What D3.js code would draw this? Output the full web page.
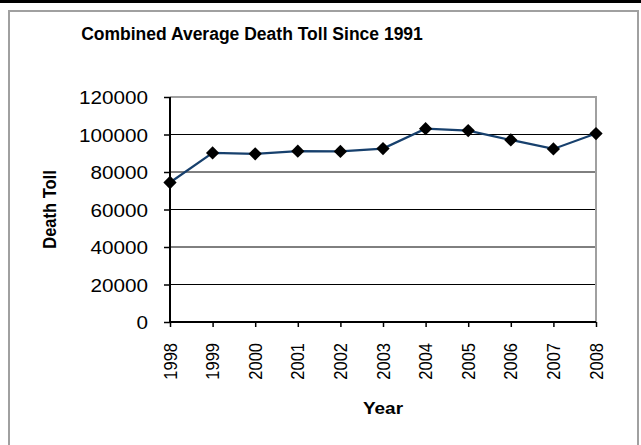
<!DOCTYPE html>
<html>
<head>
<meta charset="utf-8">
<script src="https://cdn.jsdelivr.net/npm/d3@7"></script>
<style>
  html, body { margin: 0; padding: 0; background: #fff; }
  svg { display: block; }
  text { font-family: "Liberation Sans", Arial, Helvetica, sans-serif; fill: #000; }
</style>
</head>
<body>
<svg id="chart" width="641" height="445"></svg>
<script>
// Combined average death toll per year
const years = ["1998","1999","2000","2001","2002","2003","2004","2005","2006","2007","2008"];
const deathToll = [74400, 90200, 89700, 91100, 91000, 92500, 103100, 102100, 97100, 92300, 100500];
const yTicks = [0, 20000, 40000, 60000, 80000, 100000, 120000];

const chartTitle = "Combined Average Death Toll Since 1991";
const xTitle = "Year";
const yTitle = "Death Toll";

const W = 641, H = 445;
const plot = { left: 170, right: 596, top: 97, bottom: 322 };
const stretch = 1.15; // horizontal glyph stretch for axis text

const svg = d3.select("#chart");

// page background & frame
svg.append("rect").attr("x", 0).attr("y", 0).attr("width", W).attr("height", H).attr("fill", "#fff");
svg.append("rect").attr("x", 0).attr("y", 0).attr("width", W).attr("height", 3).attr("fill", "#000");
svg.append("rect").attr("x", 9).attr("y", 11).attr("width", 629).attr("height", 460)
  .attr("fill", "#fff").attr("stroke", "#a0a0a0").attr("stroke-width", 2);

const x = d3.scalePoint().domain(years).range([plot.left, plot.right]);
const y = d3.scaleLinear().domain([0, 120000]).range([plot.bottom, plot.top]);

function stretchedText(parent, tx, ty, str, rotate, sx = stretch) {
  const g = parent.append("g")
    .attr("transform", `translate(${tx},${ty}) scale(${sx},1)` + (rotate ? ` rotate(${rotate})` : ""));
  return g.append("text").text(str);
}

// gridlines
svg.append("g").selectAll("line").data(yTicks.filter(v => v > 0 && v < 120000)).join("line")
  .attr("x1", plot.left).attr("x2", plot.right)
  .attr("y1", d => y(d)).attr("y2", d => y(d))
  .attr("stroke", "#000").attr("stroke-width", 1);

// plot-area border (top and right are gray)
svg.append("line").attr("x1", plot.left).attr("x2", plot.right + 1).attr("y1", plot.top).attr("y2", plot.top)
  .attr("stroke", "#a0a0a0").attr("stroke-width", 2);
svg.append("line").attr("x1", plot.right).attr("x2", plot.right).attr("y1", plot.top).attr("y2", plot.bottom)
  .attr("stroke", "#a0a0a0").attr("stroke-width", 2);

// y axis
const yAxis = svg.append("g").attr("transform", `translate(${plot.left},0)`)
  .call(d3.axisLeft(y).tickValues(yTicks).tickSize(6).tickFormat(""));
yAxis.select(".domain").attr("stroke", "#000").attr("stroke-width", 2).attr("d", `M0,${plot.top}V${plot.bottom}`);
yAxis.selectAll(".tick line").attr("stroke", "#000").attr("stroke-width", 1.5);

const yLabels = svg.append("g");
yTicks.forEach(v => {
  stretchedText(yLabels, 148, y(v) + 7, String(v))
    .attr("text-anchor", "end").attr("font-size", 18);
});

// x axis
const xAxis = svg.append("g").attr("transform", `translate(0,${plot.bottom})`)
  .call(d3.axisBottom(x).tickSize(5).tickFormat(""));
xAxis.select(".domain").attr("stroke", "#000").attr("stroke-width", 2).attr("d", `M${plot.left},0H${plot.right}`);
xAxis.selectAll(".tick line").attr("stroke", "#000").attr("stroke-width", 1.5);

const xLabels = svg.append("g");
years.forEach(yr => {
  stretchedText(xLabels, x(yr) + 6.5, 343, yr, -90)
    .attr("text-anchor", "end").attr("font-size", 16.5);
});

// series line
const line = d3.line().x((d, i) => x(years[i])).y(d => y(d));
svg.append("path").datum(deathToll)
  .attr("d", line).attr("fill", "none")
  .attr("stroke", "#17406d").attr("stroke-width", 2.2);

// diamond markers
const diamond = d3.symbol().type(d3.symbolSquare).size(88);
svg.append("g").selectAll("path").data(deathToll).join("path")
  .attr("d", diamond)
  .attr("transform", (d, i) => `translate(${x(years[i])},${y(d)}) rotate(45)`)
  .attr("fill", "#000");

// titles
stretchedText(svg, 252, 40, chartTitle, 0, 1)
  .attr("text-anchor", "middle").attr("font-size", 17.5).attr("font-weight", "bold");
stretchedText(svg, (plot.left + plot.right) / 2, 414, xTitle)
  .attr("text-anchor", "middle").attr("font-size", 16.5).attr("font-weight", "bold");
stretchedText(svg, 56, (plot.top + plot.bottom) / 2, yTitle, -90)
  .attr("text-anchor", "middle").attr("font-size", 16.5).attr("font-weight", "bold");
</script>
</body>
</html>
